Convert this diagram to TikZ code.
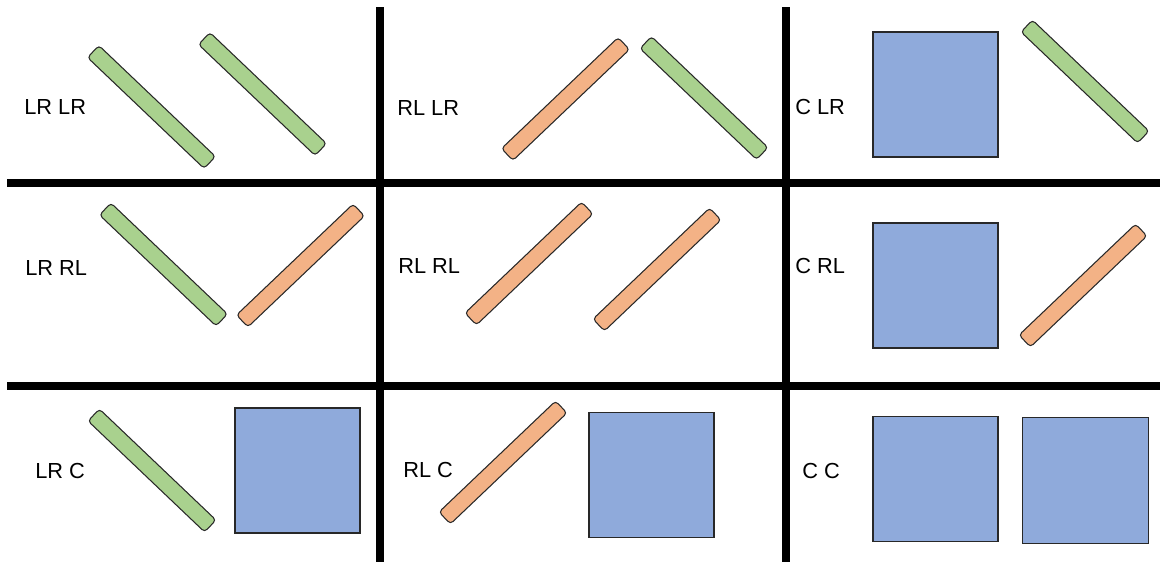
\documentclass[tikz,border=0pt]{standalone}
\usepackage{fontspec}
\setmainfont{Liberation Sans}
\usetikzlibrary{positioning}
\definecolor{bargreen}{RGB}{169,209,142}
\definecolor{barorange}{RGB}{243,178,134}
\definecolor{boxblue}{RGB}{143,170,219}
\definecolor{edgegray}{RGB}{40,40,40}
\tikzset{
    bar/.style={
        draw=edgegray,
        line width=0.6pt,
        rounded corners=2pt,
        minimum width=3.22cm,
        minimum height=0.33cm,
        inner sep=0pt
    },
    % left-right bar goes down, right-left bar goes up
    lrbar/.style={bar, fill=bargreen, rotate=-43.6},
    rlbar/.style={bar, fill=barorange, rotate=43.6},
    cbox/.style={
        draw=edgegray,
        line width=0.6pt,
        fill=boxblue,
        minimum size=2.5cm,
        inner sep=0pt
    },
    gridline/.style={line width=4pt, black},
    celllabel/.style={anchor=west, inner sep=0pt, font=\fontsize{12.4}{14}\selectfont}
}

\begin{document}
\begin{tikzpicture}[x=0.02cm, y=-0.02cm]
   \useasboundingbox (0,0) rectangle (1160,562);
   % grid
   \draw[gridline] (380,7) -- (380,562);
   \draw[gridline] (786,7) -- (786,562);
   \draw[gridline] (7,183) -- (1160,183);
   \draw[gridline] (7,386) -- (1160,386);

   % row 1
   \node[celllabel] (lblLRLR) at (24,107) {LR LR};
   \node[lrbar] (lrlrA) at (151.5,107) {};
   \node[lrbar] (lrlrB) at (262.5,94) {};
   \node[celllabel] (lblRLLR) at (397,108) {RL LR};
   \node[rlbar] (rllrA) at (565.5,99) {};
   \node[lrbar] (rllrB) at (704,98) {};
   \node[celllabel] (lblCLR) at (795,107) {C LR};
   \node[cbox] (clrA) at (935.5,94.5) {};
   \node[lrbar] (clrB) at (1085,81.5) {};

   % row 2
   \node[celllabel] (lblLRRL) at (25,268) {LR RL};
   \node[lrbar] (lrrlA) at (163.5,264.5) {};
   \node[rlbar] (lrrlB) at (300.5,265.5) {};
   \node[celllabel] (lblRLRL) at (398,266) {RL RL};
   \node[rlbar] (rlrlA) at (529,263.5) {};
   \node[rlbar] (rlrlB) at (657,269.5) {};
   \node[celllabel] (lblCRL) at (795,266) {C RL};
   \node[cbox] (crlA) at (935.5,285.5) {};
   \node[rlbar] (crlB) at (1083,285.5) {};

   % row 3
   \node[celllabel] (lblLRC) at (35,471) {LR C};
   \node[lrbar] (lrcA) at (152,470.5) {};
   \node[cbox] (lrcB) at (297.5,470.5) {};
   \node[celllabel] (lblRLC) at (403,470) {RL C};
   \node[rlbar] (rlcA) at (503,462.5) {};
   \node[cbox] (rlcB) at (651.5,475) {};
   \node[celllabel] (lblCC) at (802,471) {C C};
   \node[cbox] (ccA) at (935.5,479) {};
   \node[cbox, minimum size=2.52cm] (ccB) at (1085.5,480.5) {};
\end{tikzpicture}
\end{document}
